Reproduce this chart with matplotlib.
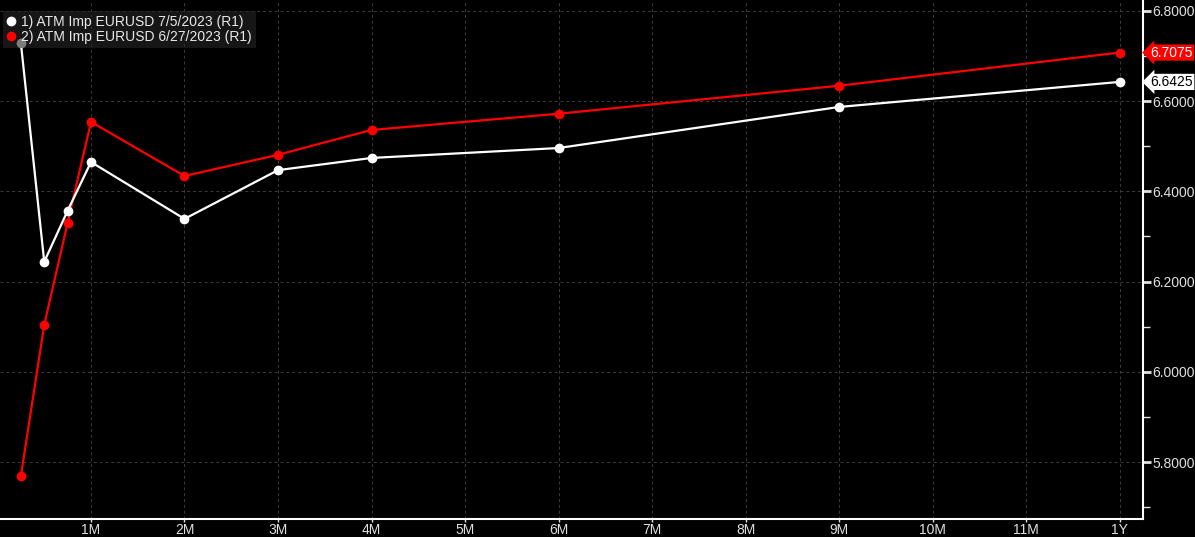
import matplotlib.pyplot as plt
from matplotlib.ticker import MultipleLocator

plt.rcParams['font.family'] = ['Liberation Sans', 'DejaVu Sans']

# tenors in months (weeks as quarter months, like the terminal axis)
tenor_labels = ["1W", "2W", "3W", "1M", "2M", "3M", "4M", "6M", "9M", "1Y"]
tenor_months = [0.25, 0.5, 0.75, 1, 2, 3, 4, 6, 9, 12]

# ATM implied vol curves
vol_0705 = [6.729, 6.244, 6.357, 6.465, 6.339, 6.447, 6.474, 6.496, 6.587, 6.6425]
vol_0627 = [5.769, 6.104, 6.330, 6.554, 6.434, 6.481, 6.536, 6.572, 6.634, 6.7075]

series_names = ["1) ATM Imp EURUSD 7/5/2023 (R1)", "2) ATM Imp EURUSD 6/27/2023 (R1)"]

xtick_pos = list(range(1, 13))
xtick_labels = [f"{m}M" for m in range(1, 12)] + ["1Y"]

fig = plt.figure(figsize=(11.95, 5.37), dpi=100, facecolor="black")
ax = fig.add_axes([0.0, 18 / 537, 1143 / 1195, 1 - 18 / 537])
ax.set_facecolor("black")

ax.plot(tenor_months, vol_0705, color="white", lw=1.6, marker="o", ms=6, label=series_names[0], zorder=3)
ax.plot(tenor_months, vol_0627, color="#ff0000", lw=1.6, marker="o", ms=6, label=series_names[1], zorder=2)

ax.set_xlim(0.027, 12.25)
ax.set_ylim(5.674, 6.824)

ax.set_xticks(xtick_pos)
ax.set_xticklabels(xtick_labels)
ax.yaxis.set_major_locator(MultipleLocator(0.2))
ax.yaxis.set_minor_locator(MultipleLocator(0.1))
ax.yaxis.tick_right()
ax.yaxis.set_major_formatter(plt.FuncFormatter(lambda v, p: f"{v:.4f}"))

ax.tick_params(axis="x", colors="#e0e0e0", labelsize=10, length=2, width=1, pad=1)
ax.tick_params(axis="y", which="major", colors="#e0e0e0", labelsize=10, length=6, width=2, pad=1)
ax.tick_params(axis="y", which="minor", colors="#e0e0e0", length=5, width=1)

ax.grid(True, which="major", color="#3c3c3c", ls=(0, (3, 3)), lw=0.7)

for s in ["top", "left"]:
    ax.spines[s].set_visible(False)
for s in ["bottom", "right"]:
    ax.spines[s].set_color("white")
    ax.spines[s].set_linewidth(1.5)

leg = ax.legend(loc="upper left", bbox_to_anchor=(0.0, 0.985), frameon=True, fancybox=False,
                facecolor="#262626", edgecolor="none", framealpha=0.6, fontsize=10,
                handlelength=0.6, handletextpad=0.4, borderpad=0.3, labelspacing=0.1,
                borderaxespad=0.2)
for h in leg.legend_handles:
    h.set_linestyle("none")
for t in leg.get_texts():
    t.set_color("#e8e8e8")
leg.set_zorder(5)

# last value tags on the right axis
ax.annotate(f"{vol_0627[-1]:.4f}", xy=(1.0, vol_0627[-1]), xycoords=("axes fraction", "data"),
            xytext=(5.5, 0), textcoords="offset points", va="center", ha="left",
            color="white", fontsize=10, annotation_clip=False,
            bbox=dict(boxstyle="larrow,pad=0.08", fc="#ff0000", ec="none"))
ax.annotate(f"{vol_0705[-1]:.4f}", xy=(1.0, vol_0705[-1]), xycoords=("axes fraction", "data"),
            xytext=(5.5, 0), textcoords="offset points", va="center", ha="left",
            color="black", fontsize=10, annotation_clip=False,
            bbox=dict(boxstyle="larrow,pad=0.08", fc="white", ec="none"))

fig.savefig("out.png", dpi=100, facecolor="black")
